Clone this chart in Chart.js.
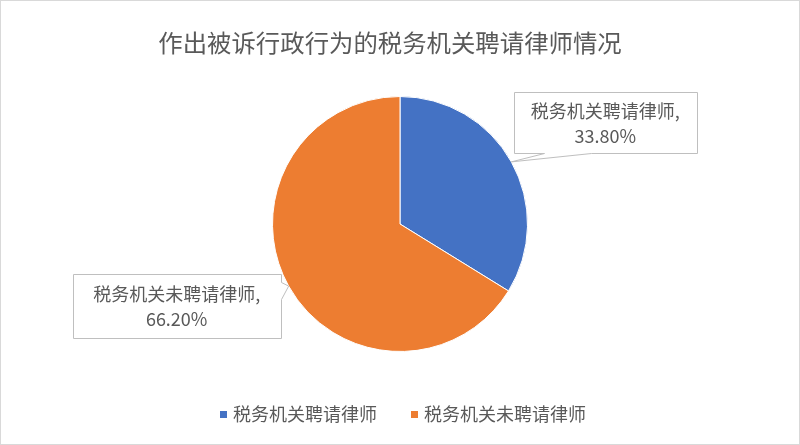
<!DOCTYPE html>
<html>
<head>
<meta charset="utf-8">
<script src="https://cdn.jsdelivr.net/npm/chart.js@4.4.0/dist/chart.umd.min.js"></script>
<style>
html,body{margin:0;padding:0;background:#fff;}
#wrap{width:800px;height:445px;}
</style>
</head>
<body>
<div id="wrap"><canvas id="c" width="800" height="445"></canvas></div>
<script>
const titleText = '作出被诉行政行为的税务机关聘请律师情况';
const categories = ['税务机关聘请律师', '税务机关未聘请律师'];
const values = [33.80, 66.20];
const valueLabels = ['33.80%', '66.20%'];
const colors = ['#4472C4', '#ED7D31'];

const FONT = '"Noto Sans CJK SC", "Noto Sans", sans-serif';
const TEXT = '#595959';

// callout placement relative to the slice's outer-mid point
const calloutCfg = [
  {dx: 94, dy: -39, w: 183, h: 61, side: 'bottom', a: 30, b: 77},
  {dx: -112, dy: 20, w: 208, h: 64, side: 'right', a: 8, b: 25}
];

const frame = {
  id: 'frame',
  beforeDraw(chart) {
    const ctx = chart.ctx;
    ctx.save();
    ctx.fillStyle = '#fff';
    ctx.fillRect(0, 0, chart.width, chart.height);
    ctx.strokeStyle = '#d9d9d9';
    ctx.lineWidth = 1;
    ctx.strokeRect(0.5, 0.5, chart.width - 1, chart.height - 1);
    ctx.fillStyle = TEXT;
    ctx.font = '24.4px ' + FONT;
    ctx.textAlign = 'center';
    ctx.textBaseline = 'middle';
    ctx.fillText(titleText, 390, 43);
    ctx.restore();
  }
};

const callouts = {
  id: 'callouts',
  afterDatasetsDraw(chart) {
    const ctx = chart.ctx;
    const meta = chart.getDatasetMeta(0);
    ctx.save();
    ctx.font = '18px ' + FONT;
    meta.data.forEach((arc, i) => {
      const p = arc.getProps(['x', 'y', 'startAngle', 'endAngle', 'outerRadius'], true);
      const mid = (p.startAngle + p.endAngle) / 2;
      const tx = p.x + Math.cos(mid) * p.outerRadius;
      const ty = p.y + Math.sin(mid) * p.outerRadius;
      const cfg = calloutCfg[i];
      const l1 = categories[i] + ',';
      const l2 = valueLabels[i];
      const w = cfg.w, h = cfg.h;
      const cx = tx + cfg.dx, cy = ty + cfg.dy;
      const x0 = Math.round(cx - w / 2) + 0.5, y0 = Math.round(cy - h / 2) + 0.5;
      const x1 = x0 + w, y1 = y0 + h;
      ctx.beginPath();
      if (cfg.side === 'bottom') {
        ctx.moveTo(x0, y0); ctx.lineTo(x1, y0); ctx.lineTo(x1, y1);
        ctx.lineTo(x0 + cfg.b, y1); ctx.lineTo(tx, ty); ctx.lineTo(x0 + cfg.a, y1);
        ctx.lineTo(x0, y1); ctx.closePath();
      } else {
        ctx.moveTo(x0, y0); ctx.lineTo(x1, y0); ctx.lineTo(x1, y0 + cfg.a);
        ctx.lineTo(tx, ty); ctx.lineTo(x1, y0 + cfg.b); ctx.lineTo(x1, y1);
        ctx.lineTo(x0, y1); ctx.closePath();
      }
      ctx.fillStyle = '#fff';
      ctx.fill();
      ctx.strokeStyle = '#bfbfbf';
      ctx.lineWidth = 1;
      ctx.stroke();
      ctx.fillStyle = TEXT;
      ctx.textAlign = 'center';
      ctx.textBaseline = 'middle';
      ctx.fillText(l1, cx, cy - 12);
      ctx.fillText(l2, cx, cy + 13);
    });
    ctx.restore();
  }
};

const legendPlugin = {
  id: 'customLegend',
  afterDraw(chart) {
    const ctx = chart.ctx;
    ctx.save();
    ctx.font = '18px ' + FONT;
    const box = 7, gap = 6, between = 34;
    const widths = categories.map(c => box + gap + ctx.measureText(c).width);
    const total = widths.reduce((a, b) => a + b, 0) + between * (categories.length - 1);
    let x = Math.round(chart.width / 2 - total / 2) + 3;
    const y = 414;
    ctx.textBaseline = 'middle';
    ctx.textAlign = 'left';
    categories.forEach((c, i) => {
      ctx.fillStyle = colors[i];
      ctx.fillRect(x, y - 3, box, box);
      ctx.fillStyle = TEXT;
      ctx.fillText(c, x + box + gap, y);
      x += widths[i] + between;
    });
    ctx.restore();
  }
};

new Chart(document.getElementById('c'), {
  type: 'pie',
  data: {
    labels: categories,
    datasets: [{
      data: values,
      backgroundColor: colors,
      borderColor: '#ffffff',
      borderWidth: 1
    }]
  },
  options: {
    responsive: false,
    devicePixelRatio: 1,
    animation: false,
    layout: {padding: {top: 96, bottom: 93, left: 0, right: 0}},
    plugins: {
      legend: {display: false},
      tooltip: {enabled: false},
      title: {display: false}
    }
  },
  plugins: [frame, callouts, legendPlugin]
});
</script>
</body>
</html>
